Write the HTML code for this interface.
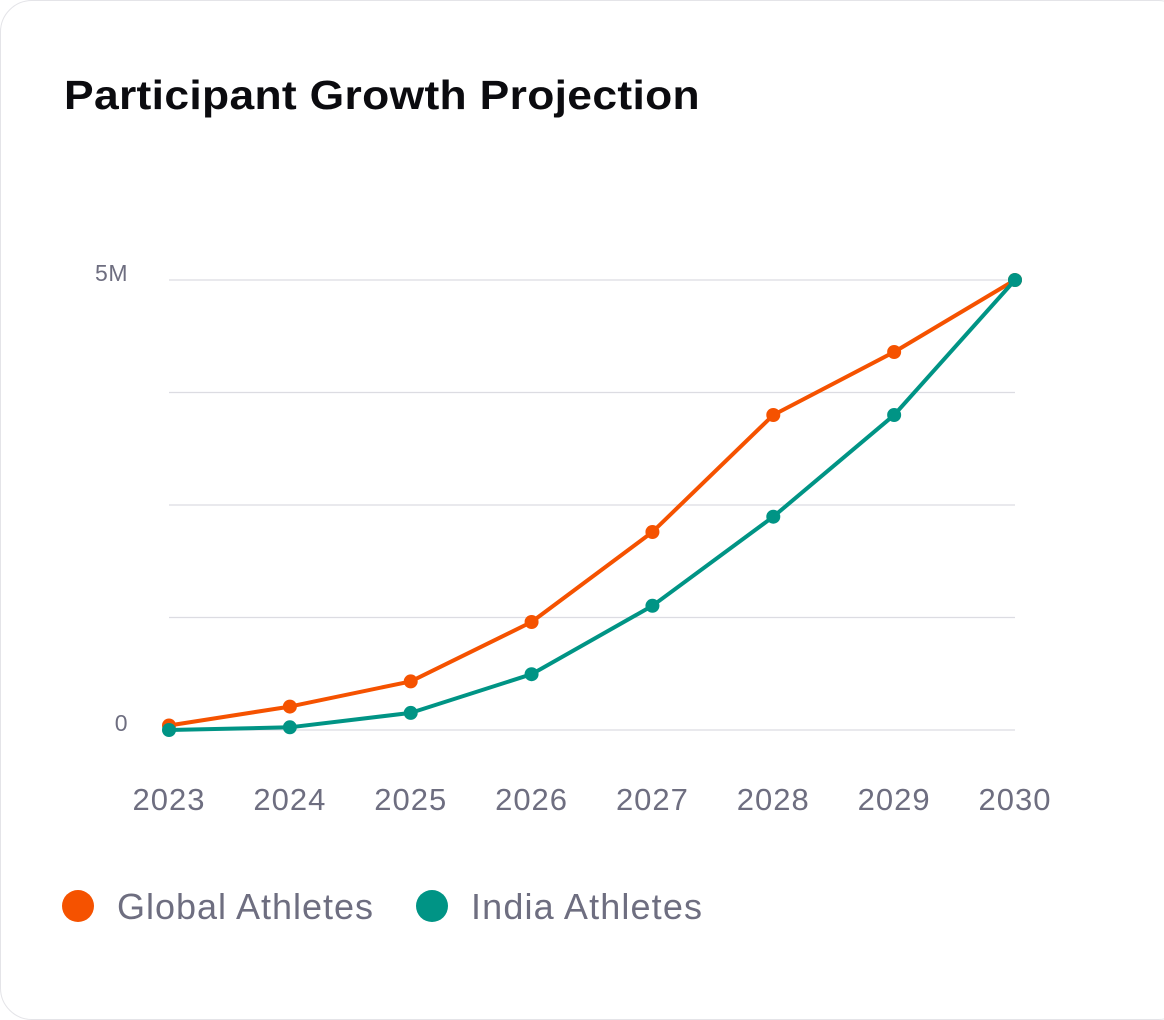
<!DOCTYPE html>
<html><head><meta charset="utf-8"><style>
html,body{margin:0;padding:0;background:#fff;}
body{width:1164px;height:994px;overflow:hidden;font-family:"Liberation Sans",sans-serif;}
.card{position:absolute;left:0;top:0;width:1190px;height:1020px;border:1.5px solid #e4e4e8;border-radius:32px;box-sizing:border-box;}
.title{position:absolute;left:64px;top:72px;font-size:41px;font-weight:bold;color:#0b0b0f;white-space:nowrap;transform-origin:0 0;transform:scaleX(1.0);letter-spacing:0.3px;}
</style></head><body>
<div class="card"></div>
<div class="title" id="title">Participant Growth Projection</div>
<svg id="chart" width="1164" height="994" style="position:absolute;left:0;top:0"></svg>
<script>
const years=["2023","2024","2025","2026","2027","2028","2029","2030"];
const globalVals=[0.05,0.26,0.54,1.2,2.2,3.5,4.2,5.0];
const indiaVals=[0.0,0.03,0.19,0.62,1.38,2.37,3.5,5.0];
const yTicks=[0,1.25,2.5,3.75,5];
const yTickLabels=["0","","","","5M"];
const svg=document.getElementById('chart');
const NS='http://www.w3.org/2000/svg';
const x0=169,x1=1015,yb=730,yt=280,ymax=5;
const xs=i=>x0+(x1-x0)*i/(years.length-1);
const ys=v=>yb-(yb-yt)*v/ymax;
function mk(t,a){const e=document.createElementNS(NS,t);for(const k in a)e.setAttribute(k,a[k]);svg.appendChild(e);return e;}
yTicks.forEach((t,i)=>{
 const l=mk('line',{x1:x0,x2:x1,y1:ys(t),y2:ys(t),stroke:'#dcdce2','stroke-width':1.2});
 
 
 if(yTickLabels[i]){const tx=mk('text',{x:128,y:ys(t)+1,'text-anchor':'end','font-size':23,fill:'#6e6e80','font-family':'Liberation Sans','letter-spacing':0.5});tx.textContent=yTickLabels[i];
 
 }
});
years.forEach((y,i)=>{
 const tx=mk('text',{x:xs(i),y:810,'text-anchor':'middle','font-size':31,fill:'#6e6e80','font-family':'Liberation Sans','letter-spacing':1});tx.textContent=y;
 
 
});
function series(vals,color,name){
 const p=mk('polyline',{points:vals.map((v,i)=>xs(i)+','+ys(v)).join(' '),fill:'none',stroke:color,'stroke-width':4,'stroke-linejoin':'round'});
 
 
 vals.forEach((v,i)=>{const c=mk('circle',{cx:xs(i),cy:ys(v),r:7,fill:color});
 
 });
}
series(globalVals,'#f55200','global-athletes');
series(indiaVals,'#009485','india-athletes');
[[78,'#f55200','Global Athletes',256],[432,'#009485','India Athletes',231]].forEach(([x,c,t,w])=>{
 const d=mk('circle',{cx:x,cy:906,r:16,fill:c});
 
 
 const tx=mk('text',{x:x+39,y:919,'font-size':36,fill:'#6e6e80','font-family':'Liberation Sans',textLength:w,lengthAdjust:'spacing'});tx.textContent=t;
 
 
});
const ti=document.getElementById('title');
const w=ti.getBoundingClientRect().width;
ti.style.transform='scaleX('+(636/w)+')';
</script>
</body></html>
